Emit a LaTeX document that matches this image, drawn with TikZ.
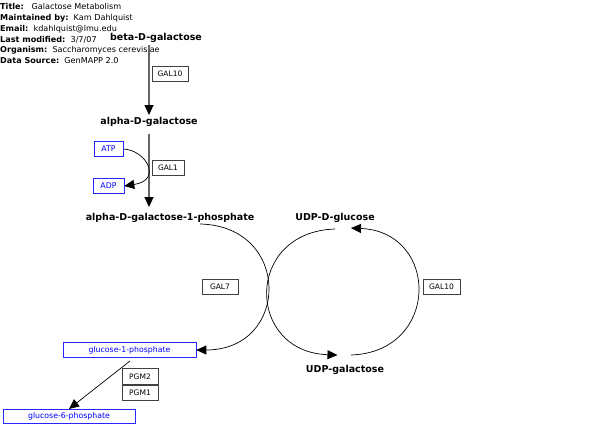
\documentclass[tikz,border=0pt]{standalone}
\usepackage{fontspec}
\setmainfont{DejaVu Sans}
\usetikzlibrary{arrows.meta}
\begin{document}
\begin{tikzpicture}[x=1pt,y=-1pt,
  hdr/.style={anchor=base west,inner sep=0pt,font=\fontsize{8.1}{9}\selectfont},
  metab/.style={font=\fontsize{9.5}{11}\selectfont\bfseries,inner sep=0pt},
  gene/.style={draw=black!75,line width=0.6pt,font=\fontsize{7.5}{9}\selectfont,inner sep=0pt,minimum height=15.5pt},
  bmet/.style={draw=blue!85,line width=0.6pt,text=blue,font=\fontsize{7.8}{9}\selectfont,inner sep=0pt,minimum height=14.5pt},
  rx/.style={draw=black!60,line width=1.1pt,-{Triangle[length=10pt,width=9pt,color=black,fill=black]}},
  cv/.style={draw=black,line width=0.7pt,-{Triangle[length=10pt,width=9pt]}}
]
\useasboundingbox (0,0) rectangle (616,436);
% header
\node[hdr] (h1) at (0,10) {\textbf{Title:}\ \ \ Galactose Metabolism};
\node[hdr] (h2) at (0,20.7) {\textbf{Maintained by:}\ \ Kam Dahlquist};
\node[hdr] (h3) at (0,31.4) {\textbf{Email:}\ \ kdahlquist@lmu.edu};
\node[hdr] (h4) at (0,42.1) {\textbf{Last modified:}\ \ 3/7/07};
\node[hdr] (h5) at (0,52.8) {\textbf{Organism:}\ \ Saccharomyces cerevisiae};
\node[hdr] (h6) at (0,63.5) {\textbf{Data Source:}\ \ GenMAPP 2.0};
% metabolites
\node[metab] (bgal) at (156,38) {beta-D-galactose};
\node[metab] (agal) at (149,122) {alpha-D-galactose};
\node[metab] (ag1p) at (170,217.5) {alpha-D-galactose-1-phosphate};
\node[metab] (udpg) at (335,217.5) {UDP-D-glucose};
\node[metab] (udpgal) at (345,369.5) {UDP-galactose};
\node[bmet,minimum width=29pt] (atp) at (108.5,149) {ATP};
\node[bmet,minimum width=31pt] (adp) at (108.5,186) {ADP};
\node[bmet,minimum width=133pt] (g1p) at (129.5,350) {glucose-1-phosphate};
\node[bmet,minimum width=132pt] (g6p) at (69,416.5) {glucose-6-phosphate};
% genes
\node[gene,minimum width=36pt] (gal10a) at (170,74) {GAL10};
\node[gene,minimum width=32pt] (gal1) at (168,168) {GAL1};
\node[gene,minimum width=36pt] (gal7) at (220,287) {GAL7};
\node[gene,minimum width=37pt] (gal10b) at (441.5,287) {GAL10};
\node[gene,minimum width=36pt] (pgm2) at (140,376.5) {PGM2};
\node[gene,minimum width=36pt,anchor=north] (pgm1) at (pgm2.south) {PGM1};
% coordinates
\coordinate (c1s) at (149,45);
\coordinate (c1e) at (149,115);
\coordinate (c2s) at (149,134);
\coordinate (c2e) at (149,207);
% reactions
\draw[rx] (c1s) -- (c1e);
\draw[rx] (c2s) -- (c2e);
\draw[cv] (atp.east) .. controls (146,150) and (163,180) .. (adp.east);
\coordinate (a1) at (200,224);
\draw[cv] (a1) .. controls (292,226) and (290,350) .. (g1p.east);
\coordinate (b1) at (335,229);
\coordinate (b2) at (337.5,355);
\draw[cv] (b1) .. controls (244,232) and (246,352) .. (b2);
\coordinate (d1) at (351,355);
\coordinate (d2) at (351,228);
\draw[cv] (d1) .. controls (440,352) and (440,232) .. (d2);
\coordinate (g1s) at (130,361);
\draw[cv] (g1s) -- (g6p.north);
\end{tikzpicture}
\end{document}
